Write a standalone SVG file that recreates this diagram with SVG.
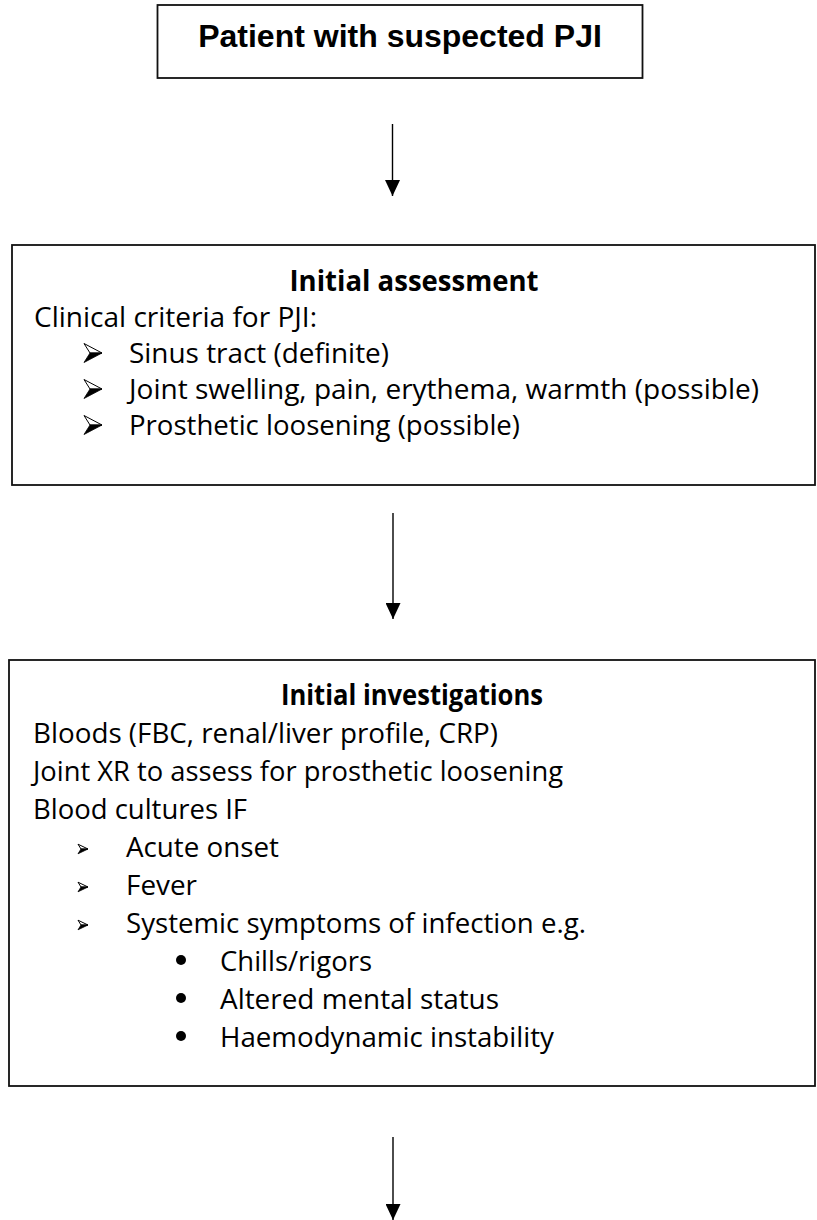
<svg xmlns="http://www.w3.org/2000/svg" width="817" height="1220" viewBox="0 0 817 1220">
<defs>
<style>
.box{fill:#fff;stroke:#111;stroke-width:1.8}
.t{font-family:"Open Sans","Noto Sans","DejaVu Sans",sans-serif;font-size:28px;fill:#000}
.b{font-weight:bold}
.h{font-family:"Liberation Sans",Arial,sans-serif;font-size:32px;font-weight:bold;fill:#000}
.ln{stroke:#000;stroke-width:1.4;fill:none}
.aw{fill:#fff;stroke:#000;stroke-width:1;stroke-linejoin:miter}
.ab{fill:#000;stroke:#000;stroke-width:0.8}
</style>
<marker id="ah" viewBox="0 0 16 15" refX="16" refY="7.5" markerWidth="16" markerHeight="15" markerUnits="userSpaceOnUse" orient="auto">
<path d="M0,0 L16,7.5 L0,15 Z" fill="#000"/>
</marker>
<g id="bigarrow">
<path class="aw" d="M0,-9.5 L18,0 L6,0 Z"/>
<path class="ab" d="M6,0 L18,0 L0,9.5 Z"/>
</g>
<g id="smallarrow">
<path class="aw" d="M0,-4.8 L10,0 L3,0 Z" stroke-width="0.8"/>
<path class="ab" d="M3,0 L10,0 L0,4.8 Z" stroke-width="0.6"/>
</g>
</defs>
<rect width="817" height="1220" fill="#fff"/>
<g id="connectors">
<line class="ln" x1="392.5" y1="124" x2="392.5" y2="196" marker-end="url(#ah)"/>
<line class="ln" x1="393" y1="513" x2="393" y2="619" marker-end="url(#ah)"/>
<line class="ln" x1="393" y1="1137" x2="393" y2="1220" marker-end="url(#ah)"/>
</g>
<g id="node-patient">
<rect class="box" x="157.5" y="5" width="485" height="73"/>
<text class="h" x="400" y="47" text-anchor="middle">Patient with suspected PJI</text>
</g>
<g id="node-assessment">
<rect class="box" x="12" y="245" width="803" height="240"/>
<text class="t b" x="414" y="291" text-anchor="middle" textLength="249" lengthAdjust="spacingAndGlyphs">Initial assessment</text>
<text class="t" x="34" y="327" textLength="283" lengthAdjust="spacingAndGlyphs">Clinical criteria for PJI:</text>
<use href="#bigarrow" x="84" y="353"/>
<text class="t" x="129" y="363" textLength="260" lengthAdjust="spacingAndGlyphs">Sinus tract (definite)</text>
<use href="#bigarrow" x="84" y="389"/>
<text class="t" x="129" y="399" textLength="630" lengthAdjust="spacingAndGlyphs">Joint swelling, pain, erythema, warmth (possible)</text>
<use href="#bigarrow" x="84" y="425"/>
<text class="t" x="129" y="435" textLength="391" lengthAdjust="spacingAndGlyphs">Prosthetic loosening (possible)</text>
</g>
<g id="node-investigations">
<rect class="box" x="9" y="660" width="806" height="426"/>
<text class="t b" x="412" y="705" text-anchor="middle" textLength="262" lengthAdjust="spacingAndGlyphs">Initial investigations</text>
<text class="t" x="33" y="743" textLength="465" lengthAdjust="spacingAndGlyphs">Bloods (FBC, renal/liver profile, CRP)</text>
<text class="t" x="33" y="781" textLength="530" lengthAdjust="spacingAndGlyphs">Joint XR to assess for prosthetic loosening</text>
<text class="t" x="33" y="819" textLength="214" lengthAdjust="spacingAndGlyphs">Blood cultures IF</text>
<use href="#smallarrow" x="78" y="849"/>
<text class="t" x="126" y="857" textLength="153" lengthAdjust="spacingAndGlyphs">Acute onset</text>
<use href="#smallarrow" x="78" y="887"/>
<text class="t" x="126" y="895" textLength="71" lengthAdjust="spacingAndGlyphs">Fever</text>
<use href="#smallarrow" x="78" y="925"/>
<text class="t" x="126" y="933" textLength="460" lengthAdjust="spacingAndGlyphs">Systemic symptoms of infection e.g.</text>
<circle cx="181" cy="960" r="5" fill="#000"/>
<text class="t" x="220" y="971" textLength="152" lengthAdjust="spacingAndGlyphs">Chills/rigors</text>
<circle cx="181" cy="998" r="5" fill="#000"/>
<text class="t" x="220" y="1009" textLength="279" lengthAdjust="spacingAndGlyphs">Altered mental status</text>
<circle cx="181" cy="1036" r="5" fill="#000"/>
<text class="t" x="220" y="1047" textLength="334" lengthAdjust="spacingAndGlyphs">Haemodynamic instability</text>
</g>
</svg>
